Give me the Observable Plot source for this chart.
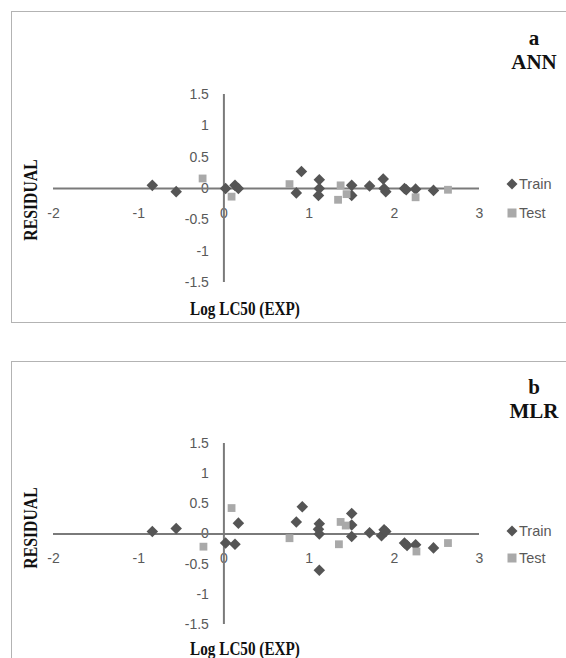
<!DOCTYPE html>
<html>
<head>
<meta charset="utf-8">
<script src="https://cdn.jsdelivr.net/npm/d3@7"></script>
<script src="https://cdn.jsdelivr.net/npm/@observablehq/plot@0.6"></script>
<style>
  html, body { margin: 0; padding: 0; background: #fff; }
  body { width: 566px; height: 658px; overflow: hidden; position: relative; font-family: "Liberation Sans", Arial, sans-serif; }
  .panel { position: absolute; left: 0; width: 566px; }
  .panel svg { position: absolute; left: 0; top: 0; }
  .frame { position: absolute; left: 11px; width: 580px; border: 1.5px solid #b3b3b3; box-sizing: border-box; }
  .serif { position: absolute; font-family: "Liberation Serif", "Times New Roman", serif; font-weight: bold; color: #111; white-space: nowrap; }
  .title { transform: translate(-50%, -50%); font-size: 21px; line-height: 1; text-align: center; }
  .ylab { font-size: 19px; line-height: 1; transform: translate(-50%, -50%) rotate(-90deg) scaleX(0.83); }
  .xlab { font-size: 19px; line-height: 1; transform: translate(-50%, -50%) scaleX(0.8); }
  .leg { position: absolute; font-size: 14.5px; color: #595959; display: flex; align-items: center; transform: translateY(-50%); }
  .leg svg { position: static; margin-right: 1px; }
</style>
</head>
<body>
<script>
// ---- data ----
const xTicks = [-2, -1, 0, 1, 2, 3];
const yTicks = [1.5, 1, 0.5, 0, -0.5, -1, -1.5];
const yTickLabels = ["1.5", "1", "0.5", "0", "-0.5", "-1", "-1.5"];
const seriesNames = ["Train", "Test"];
const panelLetters = ["a", "b"];
const panelModels = ["ANN", "MLR"];
const xLabel = "Log LC50 (EXP)";
const yLabel = "RESIDUAL";

// Panel a (ANN): [log LC50 exp, residual]
const annTrain = [
  [-0.84, 0.05], [-0.56, -0.05], [0.02, 0.0], [0.13, 0.05], [0.17, 0.0],
  [0.91, 0.27], [0.85, -0.07], [1.12, 0.14], [1.12, 0.0], [1.11, -0.11],
  [1.50, 0.05], [1.50, -0.11], [1.71, 0.04], [1.87, 0.15], [1.88, 0.0],
  [1.90, -0.05], [2.12, 0.0], [2.14, -0.02], [2.25, -0.01], [2.46, -0.03]
];
const annTest = [
  [-0.25, 0.16], [0.09, -0.13], [0.77, 0.07], [1.37, 0.05], [1.34, -0.18],
  [1.44, -0.09], [2.25, -0.14], [2.63, -0.02]
];
// Panel b (MLR)
const mlrTrain = [
  [-0.84, 0.04], [-0.56, 0.09], [0.02, -0.15], [0.13, -0.17], [0.17, 0.18],
  [0.92, 0.45], [0.85, 0.20], [1.12, 0.17], [1.11, 0.08], [1.12, 0.0],
  [1.12, -0.60], [1.50, 0.34], [1.50, 0.15], [1.50, -0.04], [1.71, 0.02],
  [1.85, -0.03], [1.88, 0.07], [1.90, 0.04], [2.12, -0.15], [2.15, -0.19],
  [2.25, -0.18], [2.46, -0.23]
];
const mlrTest = [
  [-0.24, -0.21], [0.09, 0.43], [0.77, -0.07], [1.37, 0.20], [1.43, 0.14],
  [1.35, -0.17], [2.26, -0.29], [2.63, -0.15]
];

// ---- style ----
const trainColor = "#555555";
const testColor = "#a9a9a9";
const axisColor = "#7a7a7a";
const tickColor = "#595959";
const tickFont = "'Liberation Sans', Arial, sans-serif";

function makePlot(train, test, h, mTop, mBottom) {
  return Plot.plot({
    width: 566,
    height: h,
    marginLeft: 53,
    marginRight: 87,
    marginTop: mTop,
    marginBottom: mBottom,
    x: { domain: [xTicks[0], xTicks[xTicks.length - 1]], axis: null },
    y: { domain: [yTicks[yTicks.length - 1], yTicks[0]], axis: null },
    style: { background: "transparent", overflow: "visible" },
    marks: [
      Plot.text(xTicks, { x: d => d, y: 0, dy: 25, text: d => String(d), fill: tickColor, fontSize: 14, fontFamily: tickFont }),
      Plot.text(yTicks, { x: 0, y: d => d, dx: -15, textAnchor: "end", text: (d, i) => yTickLabels[i], fill: tickColor, fontSize: 14, fontFamily: tickFont }),
      Plot.ruleY([0], { x1: xTicks[0], x2: xTicks[xTicks.length - 1], stroke: axisColor, strokeWidth: 2 }),
      Plot.ruleX([0], { y1: yTicks[yTicks.length - 1], y2: yTicks[0], stroke: axisColor, strokeWidth: 2 }),
      Plot.dot(train, { x: d => d[0], y: d => d[1], symbol: "diamond2", r: 5.2, fill: trainColor, stroke: "none" }),
      Plot.dot(test, { x: d => d[0], y: d => d[1], symbol: "square", r: 4.4, fill: testColor, stroke: "none" })
    ]
  });
}

function legendItem(kind, color, label) {
  const shape = kind === "diamond"
    ? `<svg width="12" height="12" viewBox="-6 -6 12 12"><path d="M0,-5.5L5.5,0L0,5.5L-5.5,0Z" fill="${color}"/></svg>`
    : `<svg width="12" height="12" viewBox="-6 -6 12 12"><rect x="-4.5" y="-4.5" width="9" height="9" fill="${color}"/></svg>`;
  return shape + `<span>${label}</span>`;
}

function addPanel(cfg) {
  const p = document.createElement("div");
  p.className = "panel";
  p.style.top = cfg.top + "px";
  p.style.height = cfg.h + "px";
  document.body.appendChild(p);

  const fr = document.createElement("div");
  fr.className = "frame";
  fr.style.top = cfg.frameTop + "px";
  fr.style.height = cfg.frameH + "px";
  p.appendChild(fr);

  p.appendChild(makePlot(cfg.train, cfg.test, cfg.h, cfg.mTop, cfg.mBottom));

  const t1 = document.createElement("div");
  t1.className = "serif title";
  t1.style.left = "534px"; t1.style.top = cfg.letterY + "px";
  t1.textContent = cfg.letter;
  p.appendChild(t1);
  const t2 = document.createElement("div");
  t2.className = "serif title";
  t2.style.left = "534px"; t2.style.top = (cfg.letterY + 24) + "px";
  t2.textContent = cfg.model;
  p.appendChild(t2);

  const yl = document.createElement("div");
  yl.className = "serif ylab";
  yl.style.left = "30px"; yl.style.top = cfg.yLabY + "px";
  yl.textContent = yLabel;
  p.appendChild(yl);

  const xl = document.createElement("div");
  xl.className = "serif xlab";
  xl.style.left = "245px"; xl.style.top = cfg.xLabY + "px";
  xl.textContent = xLabel;
  p.appendChild(xl);

  const l1 = document.createElement("div");
  l1.className = "leg";
  l1.style.left = "506px"; l1.style.top = cfg.leg1Y + "px";
  l1.innerHTML = legendItem("diamond", trainColor, seriesNames[0]);
  p.appendChild(l1);
  const l2 = document.createElement("div");
  l2.className = "leg";
  l2.style.left = "506px"; l2.style.top = cfg.leg2Y + "px";
  l2.innerHTML = legendItem("square", testColor, seriesNames[1]);
  p.appendChild(l2);
}

addPanel({ top: 0, h: 330, mTop: 94, mBottom: 48, frameTop: 11, frameH: 312,
  train: annTrain, test: annTest, letter: panelLetters[0], model: panelModels[0],
  letterY: 38, yLabY: 200, xLabY: 308, leg1Y: 184, leg2Y: 213 });
addPanel({ top: 330, h: 328, mTop: 113, mBottom: 34, frameTop: 31, frameH: 330,
  train: mlrTrain, test: mlrTest, letter: panelLetters[1], model: panelModels[1],
  letterY: 57, yLabY: 198, xLabY: 318, leg1Y: 201, leg2Y: 228 });
</script>
</body>
</html>
